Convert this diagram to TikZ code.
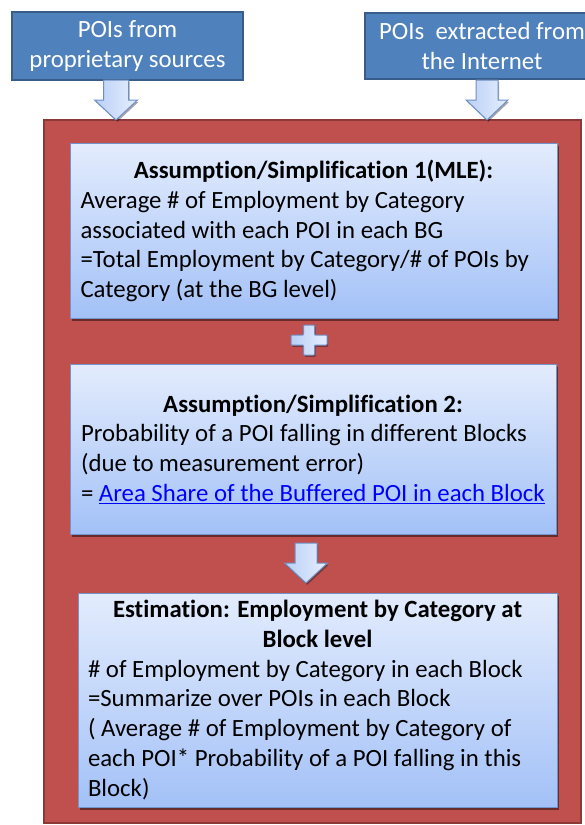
\documentclass[tikz,border=0pt]{standalone}
\usepackage{fontspec}
\setmainfont{Carlito}[Ligatures=NoCommon]
\usetikzlibrary{shadows}
\definecolor{poiblue}{HTML}{4F81BD}
\definecolor{poiedge}{HTML}{385D8A}
\definecolor{framefill}{HTML}{C0504D}
\definecolor{frameedge}{HTML}{8C3836}
\definecolor{boxtop}{HTML}{E3ECFD}
\definecolor{boxbot}{HTML}{A3C1F7}
\definecolor{boxedge}{HTML}{7094CC}
\definecolor{arrowA}{HTML}{B9D0F7}
\definecolor{arrowB}{HTML}{E6EEFD}
\definecolor{arrowedge}{HTML}{6E8FC6}
\definecolor{linkblue}{HTML}{0000FF}

% block arrow pointing down: centre x, top y, neck y, tip y, shaft half width, head half width
\newcommand\downblock[6]{%
  \path[flow] ({#1-#5},#2) -- ({#1+#5},#2) -- ({#1+#5},#3) -- ({#1+#6},#3)
    -- (#1,#4) -- ({#1-#6},#3) -- ({#1-#5},#3) -- cycle;}

\begin{document}
\begin{tikzpicture}[x=1pt,y=-1pt,
  every node/.style={font=\fontsize{24.8}{29.7}\selectfont, inner sep=0pt, outer sep=0pt},
  source/.style={draw=poiedge, line width=1.5pt, fill=poiblue, text=white, align=center},
  stepbox/.style={draw=boxedge, line width=1pt, top color=boxtop, bottom color=boxbot,
    text=black, align=center,
    drop shadow={shadow xshift=1.5pt, shadow yshift=-2.5pt, opacity=0.45, fill=black}},
  flow/.style={draw=arrowedge, line width=1pt, left color=arrowA, right color=arrowB,
    drop shadow={shadow xshift=1.2pt, shadow yshift=-1.8pt, opacity=0.35, fill=black}}]
\useasboundingbox (0,0) rectangle (584,825);

% data sources
\node[source, minimum width=231pt, minimum height=68pt] (srcA) at (127.5,46)
  {POIs from\\proprietary sources};
\node[source, minimum width=234pt, minimum height=66pt] (srcB) at (482,46)
  {POIs\ \ extracted from\\the Internet};

% red frame holding the method
\node[draw=frameedge, line width=2pt, fill=framefill,
  minimum width=537pt, minimum height=703pt] (frame) at (312.5,471.5) {};

\downblock{116}{80}{100}{120}{12.5}{21.5}
\downblock{487}{80}{100}{120}{11}{21}

% step 1
\node[stepbox, minimum width=487pt, minimum height=175pt] (mle) at (313.5,231)
  {\textbf{Assumption/Simplification 1(MLE):}\\
   \makebox[466pt][l]{Average \# of Employment by Category}\\
   \makebox[466pt][l]{associated with each POI in each BG}\\
   \makebox[466pt][l]{=Total Employment by Category/\# of POIs by}\\
   \makebox[466pt][l]{Category (at the BG level)}};

% plus sign
\path[flow, rounded corners=0.8pt] (303.5,325) -- (314.5,325) -- (314.5,335) -- (327,335)
  -- (327,345) -- (314.5,345) -- (314.5,355) -- (303.5,355) -- (303.5,345)
  -- (291,345) -- (291,335) -- (303.5,335) -- cycle;

% step 2
\node[stepbox, minimum width=486pt, minimum height=170pt] (prob) at (313,449)
  {\textbf{Assumption/Simplification 2:}\\
   \makebox[464pt][l]{Probability of a POI falling in different Blocks}\\
   \makebox[464pt][l]{(due to measurement error)}\\
   \makebox[464pt][l]{= \textcolor{linkblue}{\underline{Area Share of the Buffered POI in each Block}}}};

\downblock{306}{543}{563}{583}{11}{21.5}

% estimation
\node[stepbox, minimum width=479pt, minimum height=214pt] (est) at (317.5,700)
  {\textbf{Estimation: Employment by Category at}\\
   \textbf{Block level}\\
   \makebox[459pt][l]{\# of Employment by Category in each Block}\\
   \makebox[459pt][l]{=Summarize over POIs in each Block}\\
   \makebox[459pt][l]{( Average \# of Employment by Category of}\\
   \makebox[459pt][l]{each POI* Probability of a POI falling in this}\\
   \makebox[459pt][l]{Block)}};
\end{tikzpicture}
\end{document}
